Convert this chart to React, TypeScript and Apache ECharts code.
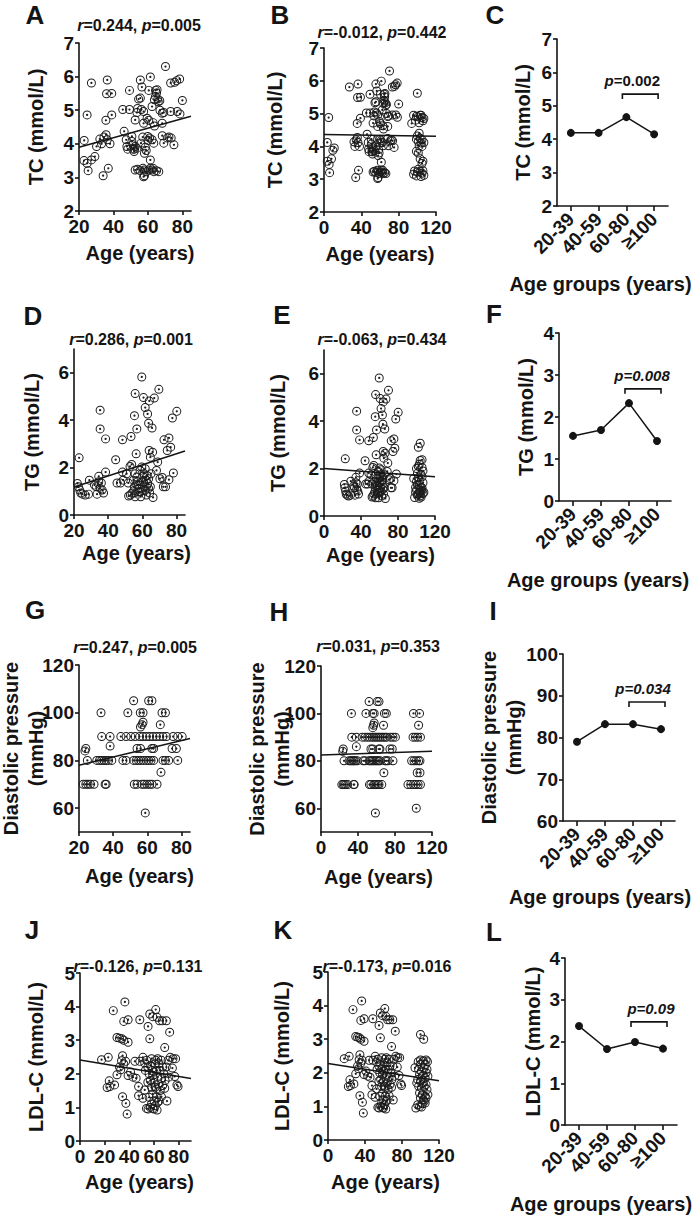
import React, { useEffect, useRef } from 'react';
import * as echarts from 'echarts';

const FONT = '"Liberation Sans", Arial, Helvetica, sans-serif';
const INK = '#141414';

// ---------- data ----------
const ageGroups = ['20-39', '40-59', '60-80', '≥100'];

// TC (mmol/L)
const tcEarlyA = [[23,4.1],[24.7,4.86],[22.9,3.5],[24.7,3.42],[25.3,3.2],[27.2,3.52],[29.2,3.62],[30.2,3.92]];
const tcEarlyB = [[3.5,4.12],[5,4.88],[3.5,3.55],[5.5,3.45],[6,3.2],[8,3.62],[9.5,3.88],[11,3.95]];
const tcYoung = [
  [27.2,5.81],[33.1,4.0],[34.5,4.2],[35.7,4.27],[36.4,5.9],[36,5.49],[39,5.5],[35.6,4.7],[39,4.86],[37,3.27],[34,3.05],[38,4.0],[36.4,4.12],[32.1,4.14],
  [45.4,5.02],[46.2,4.37],[48.3,3.84],[49.3,5.02],[49.3,5.59],[50.7,4.22],[51.3,3.97],[52.2,3.84],[52.6,4.71],[53.6,4.93],[54.6,5.33],[55.6,5.36],[55.6,5.9],[56.5,5.69],[56.2,5.02],[57.5,4.96],[59.5,4.76],[60.5,5.59],[61.4,5.99],[57.5,4.61],[59.9,4.22],[61,4.17],[62.4,4.12],[63.4,4.02],[63.8,4.53],[63,4.63],[62.4,5.11],[63.8,5.31],[64.4,5.41],[65,5.51],[65.3,5.61],[64.4,5.59],[65.7,5.33],[66.9,5.28],[68.3,4.91],[69.2,4.93],[68.3,4.61],[69.2,4.02],[68.3,4.24],[70.2,6.3],[71.2,4.17],[72.2,4.2],[73.5,4.17],[75.1,3.97],[73.2,5.81],[75.5,5.83],[76.7,5.88],[78.4,5.93],[77,4.96],[78.6,4.89],[80,5.29],[73.2,4.96],
  [52.6,3.22],[54,3.24],[55.5,3.2],[57.1,3.27],[57.9,3.22],[59.1,3.17],[60.5,3.22],[61.4,3.27],[62.4,3.22],[63.4,3.17],[65,3.2],[66.3,3.17],[58,3.05],[63,3.27],[61.4,3.52],[57.5,3.02],
  [51.3,3.84],[52.6,3.92],[52,3.77],[53.6,3.87],[50.7,4.07],[47.8,3.92],[47.4,4.12],
  [56,4.02],[58.5,3.9],[59,3.8],[60,4.1],[57,4.2],[58,3.72],[60.5,4.7],[54,5.05],[66,5.25],[67,5.0]
];
const tcOld = [
  [100,5.62],[96,4.95],[99,4.92],[101,4.9],[103,4.95],[105,4.88],[107,4.85],[98,4.8],[106,4.78],[94,4.7],[102,4.72],
  [100,4.32],[103,4.25],[105,4.2],[101,4.15],[104,4.1],[107,4.12],[99,4.22],[102,4.02],[105,4.0],[99,3.85],[101,3.8],[103,3.62],[106,3.55],[105,3.48],
  [97,3.25],[100,3.22],[103,3.24],[105,3.18],[107,3.12],[96,3.15],[99,3.1],[104,3.08],[101,3.3],[106,3.26],[102,4.4],[104,4.95]
];
const tcMeans = [4.19, 4.19, 4.66, 4.15];

// TG (mmol/L)
const tgYoung = [
  [23,2.41],[22,1.33],[22.6,1.19],[23.4,1.05],[24,0.93],[25,0.88],[26.6,0.84],[29,1.47],[28.5,0.88],[32,1.26],[33,1.19],[33.5,0.88],[34.5,1.4],[34.5,1.63],[35.3,1.12],[36,1.35],[35.3,4.42],[35.3,3.63],[38.5,3.21],[38.5,1.81],[37.3,0.93],[36.5,1.05],
  [44.4,2.33],[45.2,1.35],[47.2,1.35],[48.4,3.17],[48.4,1.81],[48.8,1.47],[50.8,1.74],[51.8,1.35],[52.8,2.05],[53.4,3.31],[53.8,2.13],[55.4,4.19],[55.8,5.12],[56.4,2.58],[56.8,3.63],
  [52,0.8],[53,0.84],[54,0.93],[55,1.02],[55.4,1.19],
  [59.7,5.82],[60.7,4.95],[61.7,4.53],[63.1,4.26],[64.1,4.81],[63.7,3.87],[65.7,3.67],[64,2.72],[66,2.65],[64.7,2.44],[67,4.93],[69.7,5.3],[68.3,1.88],[69,2.23],[66.3,0.74],[70.3,1.53],[71.7,1.58],[72.3,1.19],[72.7,3.17],[74.6,2.72],[75.6,3.25],[76.6,2.86],[77.6,4.09],[80.2,4.37],[78.2,1.77],[73.6,1.19],[75.6,1.49],
  [55.8,1.74],[56.8,1.6],[57.2,1.4],[57.8,1.26],[58.3,1.12],[58.7,0.98],[59.1,0.77],[59.7,2.02],[60.3,1.63],[60.7,1.4],[61.1,1.19],[61.7,1.05],[62.3,0.84],[62.7,1.67],[63.1,1.33],[63.7,1.12],[64.3,0.93],[56.8,1.26],[57.8,0.98],[54.8,1.47],[55.8,0.77],[59.7,1.4],[61.1,1.74],[62.3,1.47],[64.7,1.19],[63.7,1.53],[65.1,1.74],[58.7,1.88],[61.7,1.95],[60.3,1.02]
];
const tgOld = [
  [97,1.58],[100,2.0],[102,2.09],[104,2.34],[106,2.37],[103,2.18],[104,3.07],[102,2.9],[98,0.78],[101,0.88],[104,0.98],[106,1.06],[101,1.33],[103,1.3],[105,1.2],[107,1.4],[102,1.6],[106,1.65],[100,1.1],[104,1.1],[106,1.18],[107,0.95],[105,0.8],[102,0.95],[99,1.2],[103,1.5],[105,1.75],[101,1.8],[107,1.9],[104,0.85],[100,1.45],[106,2.05],[108,1.0],[103,0.75],[99,1.0]
];
const tgMeans = [1.55, 1.69, 2.33, 1.43];

// Diastolic pressure (mmHg)
const dbpYoung = [
  [22.5,70],[24,70],[25.3,70],[26.7,70],[28.8,70],[35.3,70],[35.9,70],[52.4,70],[54,70],[56.9,70],[58.2,70],[59.8,70],[61.4,70],[62.7,70],[65.7,70],
  [68,75],
  [24.9,80],[30.4,80],[32,80],[33.3,80],[34.7,80],[35.9,80],[37.3,80],[39.2,80],[45.7,80],[47.6,80],[52,80],[53.5,80],[54.9,80],[56.3,80],[57.8,80],[59.4,80],[60.8,80],[62.2,80],[63.7,80],[69.2,80],[70.6,80],[72.5,80],[77.8,80],
  [23.5,84],[24,85],[38.2,86],[54,85],[56,85],[62.7,85],[63.7,85],[74.5,85],[77,85],
  [33.3,90],[38.2,90],[44.5,90],[47.6,90],[50.4,90],[52.9,90],[55.5,90],[57.4,90],[59.4,90],[61.4,90],[63.3,90],[65.3,90],[67.3,90],[69.2,90],[71.2,90],[75.1,90],[77.8,90],[80.4,90],
  [56.9,95],[57.5,96],[67.6,95],[56,94],
  [32.9,100],[48.6,100],[55.9,100],[57.5,100],[68.6,100],[70.6,100],
  [52,105],[60.8,105],[62.7,105],
  [58.8,58]
];
const dbpOld = [
  [100,100],[106.5,100],[105.5,95],[99.5,90],[102,90],[104.5,90],[107.5,90],[98,80],[100.5,80],[103,80],[105.5,80],[107,80],[104,75],[107,75],[94,70],[97,70],[100,70],[102.5,70],[105,70],[107.5,70],[103,60]
];
const dbpMeans = [79, 83.2, 83.2, 82];

// LDL-C (mmol/L)
const ldlYoung = [
  [17.5,2.42],[22.9,2.49],[22,1.59],[24.2,1.62],[23.7,1.79],[28,1.67],[27,3.88],[30,3.08],[32,3.06],[34,3.04],[35.5,3.0],[39,2.94],[36.4,4.14],[35.5,3.56],[39,3.61],[34.5,2.54],[33.7,2.39],[35.5,2.29],[37,2.37],[32,2.2],[33,2.12],[30,1.97],[34.5,1.32],[37.2,1.12],[38.2,0.8],[39,1.95],[41,2.05],[43,1.9],[44.5,2.37],[45.5,1.87],
  [48.5,3.61],[48.5,2.37],[51,2.49],[52.5,2.32],[55.2,3.41],[56.6,3.78],[56.6,3.04],[61.4,3.91],[59,3.7],[62.5,3.68],[64.5,3.58],[66.8,3.58],[70,3.58],[72.7,3.24],[68.7,2.78],
  [47.5,1.62],[47.5,1.35],[52.5,1.52],[51,1.27],[53.9,0.97],[55.2,0.95],[57,1.0],[59,0.97],[62.5,0.92],[64,1.19],[66,1.32],[68.7,1.57],[70.5,1.19],[71.4,2.4],[73.2,2.49],[75.4,2.45],[77.5,2.45],[74.9,2.17],[76.8,1.92],[78.6,1.67],[79.5,1.62],
  [54,2.4],[55,2.2],[56,2.0],[57,1.8],[58,1.6],[59,1.4],[60,1.2],[61,2.3],[62,2.1],[63,1.9],[64,1.7],[65,1.5],[66,2.4],[67,2.2],[68,2.0],[69,1.8],[58,2.45],[60,2.05],[62,1.55],[64,2.3],[56,1.3],[58,1.1],[60,1.75],[62,1.3],[61,1.05],[63,1.15],[65,2.1],[67,1.65],[57,2.25],[59,1.95],[61,1.6],[63,2.45],[66,1.85],[55,1.75],[53,2.1],[70,2.2],[72,1.9],[60,0.95],[58.5,2.1],[61.5,2.4]
];
const ldlOld = [
  [100,3.14],[103.5,3.0],[94,2.15],[97.5,2.33],[100,2.38],[103,2.35],[106,2.38],[107.5,2.33],[105,2.25],[98,2.1],[101,2.05],[104,2.15],[107,2.1],[99,1.95],[102,1.9],[105,1.85],[108,1.9],[97,1.8],[100,1.75],[103,1.7],[106,1.65],[98,1.6],[101,1.55],[104,1.6],[107,1.5],[99,1.4],[102,1.35],[105,1.3],[108,1.35],[100,1.25],[103,1.2],[106,1.25],[97,1.05],[99,1.0],[102,1.08],[105,1.1],[95,0.95],[101,0.98],[104,1.15],[106,2.0],[100,2.25],[96,1.7]
];
const ldlMeans = [2.37, 1.82, 1.99, 1.83];

// regression lines
const fitA = [[20,3.9],[85,4.82]];
const fitB = [[0,4.36],[120,4.31]];
const fitD = [[20,1.18],[85,2.7]];
const fitE = [[0,2.0],[120,1.65]];
const fitG = [[20,78],[85,89.2]];
const fitH = [[0,82.5],[120,84]];
const fitJ = [[0,2.41],[90,1.86]];
const fitK = [[0,2.28],[120,1.76]];

const rValues = ['0.244', '-0.012', '0.286', '-0.063', '0.247', '0.031', '-0.126', '-0.173'];
const pValues = ['0.005', '0.442', '0.001', '0.434', '0.005', '0.353', '0.131', '0.016'];
const groupP = ['0.002', '0.008', '0.034', '0.09'];
const bracketLevels = [5.35, 2.67, 88.5, 2.47];

// ---------- layout ----------
type Panel = {
  kind: 'scatter' | 'line';
  grid: { left: number; top: number; width: number; height: number };
  x?: number[]; xTicks?: number[];
  y: number[]; yTicks: number[];
  yName: string; yGap: number; xGap: number; xShift: number;
  data?: number[][]; fit?: number[][]; means?: number[];
};

const panels: Panel[] = [
  { kind: 'scatter', grid: { left: 79, top: 43, width: 112, height: 168 }, x: [20, 85], xTicks: [20, 40, 60, 80], y: [2, 7], yTicks: [2, 3, 4, 5, 6, 7], yName: 'TC (mmol/L)', yGap: 31, xGap: 29, xShift: 5, data: [...tcEarlyA, ...tcYoung], fit: fitA },
  { kind: 'scatter', grid: { left: 324, top: 48, width: 112, height: 164 }, x: [0, 120], xTicks: [0, 40, 80, 120], y: [2, 7], yTicks: [2, 3, 4, 5, 6, 7], yName: 'TC (mmol/L)', yGap: 37, xGap: 29, xShift: 0, data: [...tcEarlyB, ...tcYoung, ...tcOld], fit: fitB },
  { kind: 'line', grid: { left: 557, top: 39, width: 111, height: 167 }, y: [2, 7], yTicks: [2, 3, 4, 5, 6, 7], yName: 'TC (mmol/L)', yGap: 22, xGap: 65, xShift: -12, means: tcMeans },
  { kind: 'scatter', grid: { left: 74, top: 349, width: 111, height: 166 }, x: [20, 85], xTicks: [20, 40, 60, 80], y: [0, 7], yTicks: [0, 2, 4, 6], yName: 'TG (mmol/L)', yGap: 30, xGap: 25, xShift: 7, data: tgYoung, fit: fitD },
  { kind: 'scatter', grid: { left: 324, top: 350, width: 111, height: 166 }, x: [0, 120], xTicks: [0, 40, 80, 120], y: [0, 7], yTicks: [0, 2, 4, 6], yName: 'TG (mmol/L)', yGap: 34, xGap: 26, xShift: 1, data: [...tgYoung, ...tgOld], fit: fitE },
  { kind: 'line', grid: { left: 559, top: 333, width: 112, height: 168 }, y: [0, 4], yTicks: [0, 1, 2, 3, 4], yName: 'TG (mmol/L)', yGap: 21, xGap: 66, xShift: -17, means: tgMeans },
  { kind: 'scatter', grid: { left: 79, top: 665, width: 111, height: 167 }, x: [20, 85], xTicks: [20, 40, 60, 80], y: [50, 120], yTicks: [60, 80, 100, 120], yName: 'Diastolic pressure\n(mmHg)', yGap: 31, xGap: 31, xShift: 5, data: dbpYoung, fit: fitG },
  { kind: 'scatter', grid: { left: 321, top: 666, width: 111, height: 166 }, x: [0, 120], xTicks: [0, 40, 80, 120], y: [50, 120], yTicks: [60, 80, 100, 120], yName: 'Diastolic pressure\n(mmHg)', yGap: 27, xGap: 32, xShift: 2, data: [...dbpYoung, ...dbpOld], fit: fitH },
  { kind: 'line', grid: { left: 563, top: 654, width: 112, height: 167 }, y: [60, 100], yTicks: [60, 70, 80, 90, 100], yName: 'Diastolic pressure\n(mmHg)', yGap: 37, xGap: 63, xShift: -19, means: dbpMeans },
  { kind: 'scatter', grid: { left: 80, top: 973, width: 111, height: 168 }, x: [0, 90], xTicks: [0, 20, 40, 60, 80], y: [0, 5], yTicks: [0, 1, 2, 3, 4, 5], yName: 'LDL-C (mmol/L)', yGap: 32, xGap: 28, xShift: 4, data: ldlYoung, fit: fitJ },
  { kind: 'scatter', grid: { left: 328, top: 972, width: 111, height: 168 }, x: [0, 120], xTicks: [0, 40, 80, 120], y: [0, 5], yTicks: [0, 1, 2, 3, 4, 5], yName: 'LDL-C (mmol/L)', yGap: 34, xGap: 29, xShift: 2, data: [...ldlYoung, ...ldlOld], fit: fitK },
  { kind: 'line', grid: { left: 565, top: 958, width: 112, height: 167 }, y: [0, 4], yTicks: [0, 1, 2, 3, 4], yName: 'LDL-C (mmol/L)', yGap: 20, xGap: 66, xShift: -20, means: ldlMeans },
];

const letters = [
  { t: 'A', x: 35, y: 15 }, { t: 'B', x: 280, y: 15 }, { t: 'C', x: 495, y: 15 },
  { t: 'D', x: 33, y: 316 }, { t: 'E', x: 282, y: 315 }, { t: 'F', x: 494, y: 314 },
  { t: 'G', x: 35, y: 610 }, { t: 'H', x: 279, y: 612 }, { t: 'I', x: 493, y: 611 },
  { t: 'J', x: 32, y: 930 }, { t: 'K', x: 283, y: 930 }, { t: 'L', x: 494, y: 932 },
];
const rPos = [[139, 25], [382, 32], [131, 339], [382, 339], [135, 647], [378, 646], [138, 966], [387, 966]];
const pTextDx = [-8, -1, -4, 2];

const RING = 'path://M10,0A10,10,0,1,1,10,20A10,10,0,1,1,10,0ZM10,2.2A7.8,7.8,0,1,0,10,17.8A7.8,7.8,0,1,0,10,2.2ZM10,7.5A2.5,2.5,0,1,1,10,12.5A2.5,2.5,0,1,1,10,7.5Z';

const axisLine = { show: true, onZero: false, lineStyle: { color: INK, width: 1.6 } };
const labelStyle = { color: INK, fontFamily: FONT, fontWeight: 'bold', fontSize: 19 };
const nameStyle = { color: INK, fontFamily: FONT, fontWeight: 'bold', fontSize: 20, lineHeight: 25 };

function buildOption() {
  const grid: any[] = [];
  const xAxis: any[] = [];
  const yAxis: any[] = [];
  const series: any[] = [];
  const lineSeriesIdx: number[] = [];
  panels.forEach((p, i) => {
    grid.push({ ...p.grid, containLabel: false, outerBoundsMode: 'none' });
    const shiftPad = p.xShift >= 0 ? [0, 0, 0, 2 * p.xShift] : [0, -2 * p.xShift, 0, 0];
    if (p.kind === 'scatter') {
      xAxis.push({
        type: 'value', gridIndex: i, min: p.x![0], max: p.x![1],
        axisLine, splitLine: { show: false },
        axisTick: { show: true, length: 4, customValues: p.xTicks, lineStyle: { color: INK, width: 1.6 } },
        axisLabel: { ...labelStyle, margin: 6, customValues: p.xTicks },
        name: 'Age (years)', nameLocation: 'middle', nameGap: p.xGap, nameMoveOverlap: false,
        nameTextStyle: { ...nameStyle, padding: shiftPad },
      });
    } else {
      xAxis.push({
        type: 'category', gridIndex: i, data: ageGroups, boundaryGap: true,
        axisLine, splitLine: { show: false },
        axisTick: { show: true, length: 5, alignWithLabel: true, lineStyle: { color: INK, width: 1.6 } },
        axisLabel: { ...labelStyle, fontSize: 19, rotate: 45, margin: 10, interval: 0 },
        name: 'Age groups (years)', nameLocation: 'middle', nameGap: p.xGap, nameMoveOverlap: false,
        nameTextStyle: { ...nameStyle, padding: shiftPad },
      });
    }
    yAxis.push({
      type: 'value', gridIndex: i, min: p.y[0], max: p.y[1],
      axisLine, splitLine: { show: false },
      axisTick: { show: true, length: 4, customValues: p.yTicks, lineStyle: { color: INK, width: 1.6 } },
      axisLabel: { ...labelStyle, margin: 5, customValues: p.yTicks },
      name: p.yName, nameLocation: 'middle', nameGap: p.yGap, nameRotate: 90, nameMoveOverlap: false,
      nameTextStyle: nameStyle,
    });
    if (p.kind === 'scatter') {
      series.push({
        type: 'scatter', xAxisIndex: i, yAxisIndex: i, data: p.data, symbol: RING, symbolSize: 9,
        itemStyle: { color: '#1c1c1c', opacity: 1 }, silent: true, z: 2,
      });
      series.push({
        type: 'line', xAxisIndex: i, yAxisIndex: i, data: p.fit, symbol: 'none', silent: true, z: 3,
        lineStyle: { color: INK, width: 1.5 },
      });
    } else {
      lineSeriesIdx.push(series.length);
      series.push({
        type: 'line', xAxisIndex: i, yAxisIndex: i, data: p.means, symbol: 'circle', symbolSize: 8,
        itemStyle: { color: INK }, lineStyle: { color: INK, width: 1.5 }, silent: true, z: 3,
      });
    }
  });
  return { option: { animation: false, backgroundColor: '#ffffff', grid, xAxis, yAxis, series }, lineSeriesIdx };
}

function richStyle(size: number) {
  return {
    i: { fontStyle: 'italic', fontWeight: 'bold', fontSize: size, fontFamily: FONT, fill: INK },
    b: { fontStyle: 'normal', fontWeight: 'bold', fontSize: size, fontFamily: FONT, fill: INK },
  };
}

export default function App() {
  const ref = useRef<HTMLDivElement>(null);
  useEffect(() => {
    const chart = echarts.init(ref.current!, null, { renderer: 'svg' });
    const { option, lineSeriesIdx } = buildOption();
    chart.setOption(option as any);

    const graphic: any[] = [];
    letters.forEach((l) => {
      graphic.push({
        type: 'text', x: l.x, y: l.y, silent: true,
        style: { text: l.t, fontSize: 26, fontWeight: 'bold', fontFamily: FONT, fill: INK, textAlign: 'center', textVerticalAlign: 'middle', align: 'center', verticalAlign: 'middle' },
      });
    });
    rValues.forEach((r, k) => {
      graphic.push({
        type: 'text', x: rPos[k][0], y: rPos[k][1], silent: true,
        style: {
          text: `{i|r}{b|=${r}, }{i|p}{b|=${pValues[k]}}`, rich: richStyle(16), fontSize: 16, fontFamily: FONT,
          textAlign: 'center', textVerticalAlign: 'middle', align: 'center', verticalAlign: 'middle',
        },
      });
    });
    lineSeriesIdx.forEach((si, k) => {
      const a = chart.convertToPixel({ seriesIndex: si }, [2, bracketLevels[k]]) as number[];
      const b = chart.convertToPixel({ seriesIndex: si }, [3, bracketLevels[k]]) as number[];
      if (!a || !b) return;
      const y = a[1];
      graphic.push({
        type: 'polyline', silent: true,
        shape: { points: [[a[0] - 4, y + 5], [a[0] - 4, y], [b[0] + 4, y], [b[0] + 4, y + 5]] },
        style: { stroke: INK, lineWidth: 1.6, fill: 'none' },
      });
      const txt = k === 0 ? `{i|p}{b|=${groupP[k]}}` : `{i|p=${groupP[k]}}`;
      graphic.push({
        type: 'text', x: (a[0] + b[0]) / 2 + pTextDx[k], y: y - 13.5, silent: true,
        style: {
          text: txt, rich: richStyle(15), fontSize: 15, fontFamily: FONT,
          textAlign: 'center', textVerticalAlign: 'middle', align: 'center', verticalAlign: 'middle',
        },
      });
    });
    chart.setOption({ graphic });
    return () => chart.dispose();
  }, []);
  return (
    <div
      ref={ref}
      style={{ position: 'absolute', left: 0, top: 0, width: 697, height: 1217, background: '#ffffff' }}
    />
  );
}
